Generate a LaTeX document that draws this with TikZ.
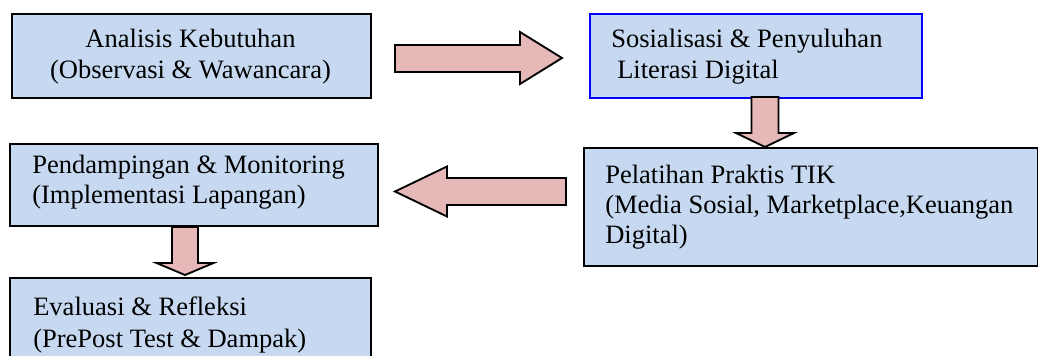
\documentclass[tikz,border=0pt]{standalone}
\usepackage{fontspec}
\setmainfont{Liberation Serif}
\newfontfamily\diagserif{Liberation Serif}
\definecolor{boxfill}{HTML}{C6D9F1}
\definecolor{arrowfill}{HTML}{E6B9B8}
\definecolor{boxblue}{HTML}{0000FF}
\begin{document}
\begin{tikzpicture}[x=0.75pt,y=-0.75pt,
  box/.style={draw=black,fill=boxfill,line width=1.4pt,rectangle,inner sep=0pt,anchor=north west},
  bluebox/.style={box,draw=boxblue},
  txt/.style={inner sep=0pt,font=\diagserif\fontsize{19.9}{23}\selectfont},
  blockarrow/.style={draw=black,fill=arrowfill,line width=1.4pt,line join=miter}]
\useasboundingbox (0,0) rectangle (1038,356);
% boxes
\node[box,minimum width=269.25pt,minimum height=63pt] (b1) at (11,13) {};
\node[bluebox,minimum width=249pt,minimum height=63pt] (b2) at (589,13) {};
\node[box,minimum width=340.5pt,minimum height=88.5pt] (b3) at (583,147) {};
\node[box,minimum width=276pt,minimum height=61.5pt] (b4) at (9,143) {};
\node[box,minimum width=270.75pt,minimum height=66pt] (b5) at (9,277) {};
% texts
\node[txt,anchor=base] (t1a) at (190.5,48) {Analisis Kebutuhan};
\node[txt,anchor=base] (t1b) at (190.5,79) {(Observasi \& Wawancara)};
\node[txt,anchor=base west] (t2a) at (611,48) {Sosialisasi \& Penyuluhan};
\node[txt,anchor=base west] (t2b) at (617,79) {Literasi Digital};
\node[txt,anchor=base west] (t3a) at (605,183) {Pelatihan Praktis TIK};
\node[txt,anchor=base west] (t3b) at (605,213) {(Media Sosial, Marketplace,Keuangan};
\node[txt,anchor=base west] (t3c) at (605,243) {Digital)};
\node[txt,anchor=base west] (t4a) at (32,173) {Pendampingan \& Monitoring};
\node[txt,anchor=base west] (t4b) at (32,204) {(Implementasi Lapangan)};
\node[txt,anchor=base west] (t5a) at (33,315) {Evaluasi \& Refleksi};
\node[txt,anchor=base west] (t5b) at (33,347) {(PrePost Test \& Dampak)};
% block arrows
\draw[blockarrow] (395,45) -- (520,45) -- (520,32) -- (562,58) -- (520,84) -- (520,72) -- (395,72) -- cycle;
\draw[blockarrow] (751.5,97) -- (778.5,97) -- (778.5,133) -- (794,133) -- (765,147) -- (736,133) -- (751.5,133) -- cycle;
\draw[blockarrow] (566,178) -- (447,178) -- (447,166.5) -- (395,191.5) -- (447,216.5) -- (447,205) -- (566,205) -- cycle;
\draw[blockarrow] (172,227) -- (198,227) -- (198,263) -- (213.5,263) -- (185,275) -- (156.5,263) -- (172,263) -- cycle;
\end{tikzpicture}
\end{document}
